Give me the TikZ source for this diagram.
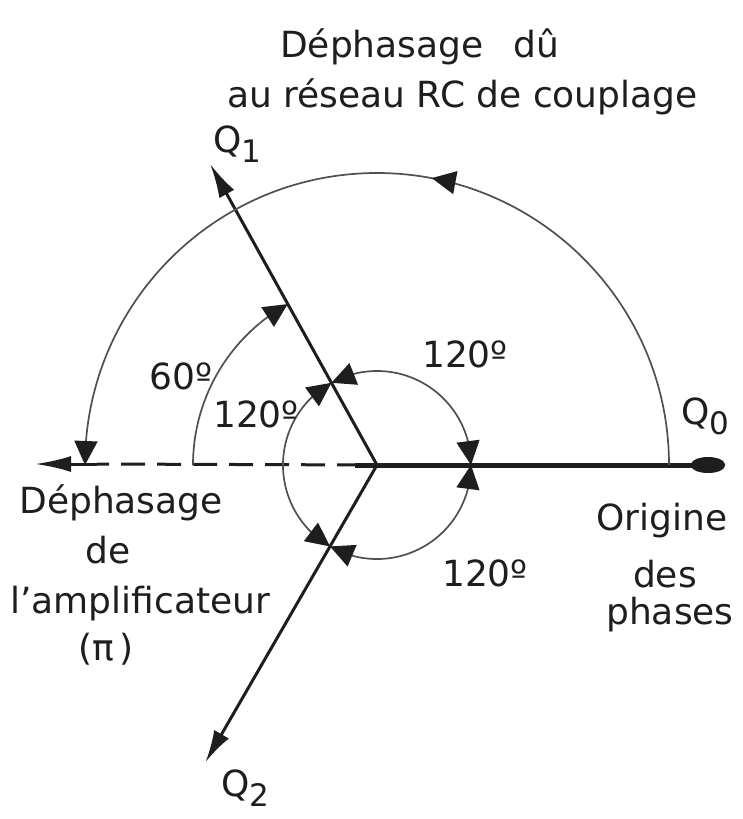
\documentclass[tikz,border=0pt]{standalone}
\usepackage{fontspec}
\setmainfont{DejaVu Sans}
\usetikzlibrary{arrows.meta,bending,decorations.markings}
\definecolor{ink}{HTML}{1E1E1E}
\definecolor{arcgray}{HTML}{505050}
\newcommand\qsub[1]{\raisebox{-10pt}{\fontsize{31}{31}\selectfont #1}}
\tikzset{
  arctip/.tip={Triangle[length=24pt,width=23pt,color=ink]},
  vec/.style={line width=3pt, draw=ink},
  arcline/.style={line width=1.7pt, draw=arcgray},
  lbl/.style={font=\fontsize{36}{40}\selectfont, text=ink, inner sep=0pt},
}
\begin{document}
\begin{tikzpicture}[x=1pt,y=1pt]
\fill[white] (0,0) rectangle (743,-819);
\useasboundingbox (0,0) rectangle (743,-819);

% key points
\coordinate (O) at (377,-465);
\coordinate (Q0tip) at (725,-465);
\coordinate (Q0start) at (355,-465);
\coordinate (Q1tip) at ([shift={(119:344)}]O);
\coordinate (Q2tip) at ([shift={(240:343)}]O);
\coordinate (Lbreak) at (97,-464);
\coordinate (Ltip) at (35,-464);

% phase vectors
\draw[vec, -{Latex[length=34pt,width=17pt]}] (O) -- (Q1tip);
\draw[vec, -{Latex[length=32pt,width=17pt]}] (O) -- (Q2tip);
\draw[line width=5pt, draw=ink, -{Ellipse[length=34pt,width=16pt]}] (Q0start) -- (Q0tip);

% dashed amplifier phase
\draw[line width=3pt, draw=ink, dash pattern=on 24pt off 12pt, dash phase=20pt] (O) -- (Lbreak);
\draw[line width=3pt, draw=ink, -{Latex[length=36pt,width=16pt]}] (Lbreak) -- (Ltip);

% small circle: three 120 degree arcs
\draw[arcline, {arctip}-{arctip}] ([shift={(0:94)}]O) arc[start angle=0, end angle=119, radius=94];
\draw[arcline, {arctip}-{arctip}] ([shift={(119:94)}]O) arc[start angle=119, end angle=240, radius=94];
\draw[arcline, {arctip}-{arctip}] ([shift={(240:94)}]O) arc[start angle=240, end angle=360, radius=94];

% 60 degree arc
\draw[arcline, -{arctip}] ([shift={(180:184)}]O) arc[start angle=180, end angle=119, radius=184];

% large arc (RC coupling phase shift)
\draw[arcline, -{arctip},
  postaction={decorate},
  decoration={markings, mark=at position 0.44 with {\arrow{arctip}}}]
  ([shift={(0:292)}]O) arc[start angle=0, end angle=180, radius=292];

% title
\node[lbl, anchor=base west] (t1) at (280,-57) {Déphasage\hspace{30pt}dû};
\node[lbl, anchor=base west] (t2) at (227,-107) {au réseau RC de couplage};

% vector labels
\node[lbl, anchor=base west] (q1) at (213,-152) {Q\qsub{1}};
\node[lbl, anchor=base west] (q0) at (681,-424) {Q\qsub{0}};
\node[lbl, anchor=base west] (q2) at (221,-796) {Q\qsub{2}};

% angle labels
\node[lbl] (a60) at (181,-376) {60º};
\node[lbl] (aL) at (256,-414) {120º};
\node[lbl] (aT) at (465,-354) {120º};
\node[lbl] (aB) at (485,-573) {120º};

% right labels
\node[lbl, anchor=base] (r1) at (662,-530) {Origine};
\node[lbl, anchor=base] (r2) at (665,-587) {des};
\node[lbl, anchor=base] (r3) at (670,-624) {phases};

% left labels
\node[lbl, anchor=base] (l1) at (121,-513) {Déphasage};
\node[lbl, anchor=base] (l2) at (108,-563) {de};
\node[lbl, anchor=base] (l3) at (140,-613) {l’amplificateur};
\node[lbl, anchor=base] (l4) at (106,-660) {(π\,)};
\end{tikzpicture}
\end{document}
